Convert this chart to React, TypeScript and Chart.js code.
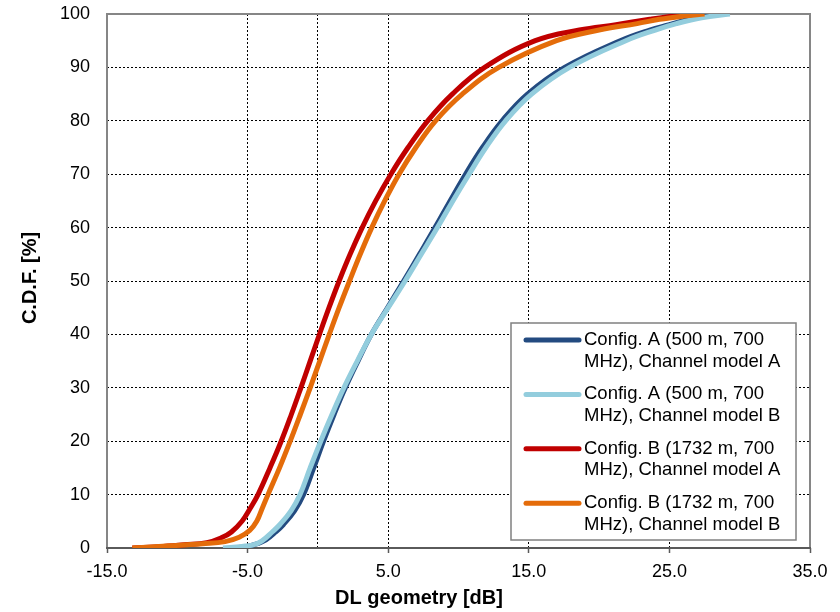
import React, { useEffect, useRef } from 'react';
import { Chart, registerables } from 'chart.js';

Chart.register(...registerables);

// ---- data ----
const seriesLabels: string[][] = [
  ['Config. A (500 m, 700', 'MHz), Channel model A'],
  ['Config. A (500 m, 700', 'MHz), Channel model B'],
  ['Config. B (1732 m, 700', 'MHz), Channel model A'],
  ['Config. B (1732 m, 700', 'MHz), Channel model B'],
];
const seriesColors = ['#234B80', '#93CDDD', '#C00000', '#E46C0A'];

// Config. A, channel model A (dB, %)
const cfgAChAx = [-6.0, -5.0, -4.3, -3.7, -3.0, -2.45, -1.65, -1.02, -0.3, 0.4, 1.15, 1.95, 2.85, 3.8, 4.95, 6.1, 7.22, 8.33, 9.4, 10.5, 11.7, 13.1, 14.9, 17.55, 21.5, 23.6, 25.0, 26.8, 28.1];
const cfgAChAy = [0, 0.3, 0.8, 1.5, 3, 4.4, 7, 10, 15, 20, 25, 30, 35, 40, 45, 50, 55, 60, 65, 70, 75, 80, 85, 90, 95, 97, 98, 99.3, 100];

// Config. A, channel model B
const cfgAChBx = [-6.75, -5.4, -4.6, -4.0, -3.25, -2.7, -1.9, -1.27, -0.55, 0.2, 1.0, 1.85, 2.8, 3.8, 5.0, 6.2, 7.35, 8.5, 9.6, 10.75, 11.95, 13.35, 15.2, 17.9, 21.9, 24.0, 25.5, 27.3, 29.3];
const cfgAChBy = [0, 0.3, 0.6, 1.3, 3, 4.4, 7, 10, 15, 20, 25, 30, 35, 40, 45, 50, 55, 60, 65, 70, 75, 80, 85, 90, 95, 97, 98.2, 99.3, 100];

// Config. B, channel model A
const cfgBChAx = [-13.2, -11.0, -9.5, -7.9, -6.8, -6.15, -5.4, -4.8, -4.26, -3.41, -2.61, -1.89, -1.21, -0.55, 0.11, 0.79, 1.51, 2.29, 3.15, 4.11, 5.19, 6.41, 7.81, 9.56, 11.86, 15.46, 18.6, 21.2, 23.6, 25.5, 26.7];
const cfgBChAy = [0, 0.3, 0.6, 1, 2, 3, 5, 7.5, 10, 15, 20, 25, 30, 35, 40, 45, 50, 55, 60, 65, 70, 75, 80, 85, 90, 95, 97, 98, 99, 99.7, 100];

// Config. B, channel model B
const cfgBChBx = [-13.2, -10.5, -8.2, -6.6, -5.6, -4.85, -4.35, -3.95, -3.55, -2.73, -1.97, -1.25, -0.55, 0.13, 0.81, 1.51, 2.25, 3.01, 3.83, 4.75, 5.77, 6.97, 8.37, 10.27, 12.87, 16.97, 20.0, 22.7, 24.3, 26.0, 27.5];
const cfgBChBy = [0, 0.4, 0.8, 1.2, 2, 3.3, 5, 7.5, 10, 15, 20, 25, 30, 35, 40, 45, 50, 55, 60, 65, 70, 75, 80, 85, 90, 95, 97, 98.2, 99, 99.6, 100];

const xTickValues = [-15, -5, 0, 5, 15, 25, 35];
const yTickValues = [0, 10, 20, 30, 40, 50, 60, 70, 80, 90, 100];
const xTitle = 'DL geometry [dB]';
const yTitle = 'C.D.F. [%]';

const FONT = "Arial, 'Liberation Sans', sans-serif";

const seriesX = [cfgAChAx, cfgAChBx, cfgBChAx, cfgBChBx];
const seriesY = [cfgAChAy, cfgAChBy, cfgBChAy, cfgBChBy];

const decorPlugin = {
  id: 'decor',
  beforeDatasetsDraw(chart: any) {
    const { ctx, chartArea: a } = chart;
    ctx.save();
    ctx.strokeStyle = '#868686';
    ctx.lineWidth = 2;
    ctx.beginPath();
    ctx.moveTo(a.left, a.bottom);
    ctx.lineTo(a.left, a.top);
    ctx.lineTo(a.right, a.top);
    ctx.lineTo(a.right, a.bottom);
    ctx.stroke();
    ctx.strokeStyle = '#5a5a5a';
    ctx.beginPath();
    ctx.moveTo(a.left - 1, a.bottom);
    ctx.lineTo(a.right + 1, a.bottom);
    ctx.stroke();
    ctx.restore();
  },
  afterDraw(chart: any) {
    const { ctx } = chart;
    ctx.save();
    // axis titles
    ctx.fillStyle = '#000';
    ctx.font = `bold 20px ${FONT}`;
    ctx.textAlign = 'center';
    ctx.textBaseline = 'middle';
    ctx.fillText(xTitle, 419, 598);
    ctx.save();
    ctx.translate(30, 278);
    ctx.rotate(-Math.PI / 2);
    ctx.fillText(yTitle, 0, 0);
    ctx.restore();

    // legend
    const bx = 511, by = 323, bw = 285, bh = 217;
    ctx.fillStyle = '#fff';
    ctx.fillRect(bx, by, bw, bh);
    ctx.strokeStyle = '#808080';
    ctx.lineWidth = 1.5;
    ctx.strokeRect(bx, by, bw, bh);
    ctx.font = `18.5px ${FONT}`;
    ctx.textAlign = 'left';
    ctx.textBaseline = 'middle';
    chart.data.datasets.forEach((ds: any, i: number) => {
      const y0 = 340 + i * 54.4;
      ctx.strokeStyle = ds.borderColor;
      ctx.lineWidth = 5;
      ctx.lineCap = 'round';
      ctx.beginPath();
      ctx.moveTo(526, y0);
      ctx.lineTo(579, y0);
      ctx.stroke();
      ctx.fillStyle = '#000';
      seriesLabels[i].forEach((t, j) => ctx.fillText(t, 584, y0 + j * 21.5));
    });
    ctx.restore();
  },
};

export default function App() {
  const ref = useRef<HTMLCanvasElement>(null);
  useEffect(() => {
    if (!ref.current) return;
    const orders = [4, 3, 2, 1];
    const chart = new Chart(ref.current, {
      type: 'line',
      data: {
        datasets: seriesLabels.map((lab, i) => ({
          label: lab.join(' '),
          data: seriesX[i].map((x, k) => ({ x, y: seriesY[i][k] })),
          borderColor: seriesColors[i],
          backgroundColor: seriesColors[i],
          borderWidth: 5,
          borderJoinStyle: 'round',
          pointRadius: 0,
          fill: false,
          tension: 0.4,
          order: orders[i],
        })),
      },
      options: {
        responsive: false,
        animation: false,
        layout: { padding: { top: 14, right: 30, left: 0, bottom: 0 } },
        plugins: { legend: { display: false }, tooltip: { enabled: false } },
        scales: {
          x: {
            type: 'linear',
            min: -15,
            max: 35,
            afterBuildTicks: (s: any) => { s.ticks = xTickValues.map((v) => ({ value: v })); },
            afterFit: (s: any) => { s.height = 64; s.paddingLeft = 0; s.paddingRight = 0; },
            ticks: {
              autoSkip: false,
              maxRotation: 0,
              padding: 8,
              color: '#000',
              font: { family: FONT, size: 18 },
              callback: (v: any) => (Number(v) === 0 ? '' : Number(v).toFixed(1)),
            },
            border: { display: false, dash: [2, 2] },
            grid: {
              color: (c: any) => (c.tick && (c.tick.value === -15 || c.tick.value === 35) ? 'rgba(0,0,0,0)' : '#000'),
              lineWidth: 1,
              drawTicks: true,
              tickLength: 5,
              tickBorderDash: [],
              tickColor: (c: any) => (c.tick && c.tick.value === 0 ? 'rgba(0,0,0,0)' : '#5a5a5a'),
              tickWidth: 1.5,
            },
          },
          y: {
            type: 'linear',
            min: 0,
            max: 100,
            afterBuildTicks: (s: any) => { s.ticks = yTickValues.map((v) => ({ value: v })); },
            afterFit: (s: any) => { s.width = 107; s.paddingTop = 0; s.paddingBottom = 0; },
            ticks: {
              padding: 17,
              color: '#000',
              font: { family: FONT, size: 18 },
              callback: (v: any) => String(v),
            },
            border: { display: false, dash: [2, 2] },
            grid: {
              color: (c: any) => (c.tick && (c.tick.value === 0 || c.tick.value === 100) ? 'rgba(0,0,0,0)' : '#000'),
              lineWidth: 1,
              drawTicks: false,
            },
          },
        },
      },
      plugins: [decorPlugin],
    } as any);
    return () => chart.destroy();
  }, []);
  return (
    <div style={{ position: 'fixed', left: 0, top: 0, width: 840, height: 612, background: '#fff' }}>
      <canvas ref={ref} width={840} height={612} style={{ display: 'block' }} />
    </div>
  );
}
